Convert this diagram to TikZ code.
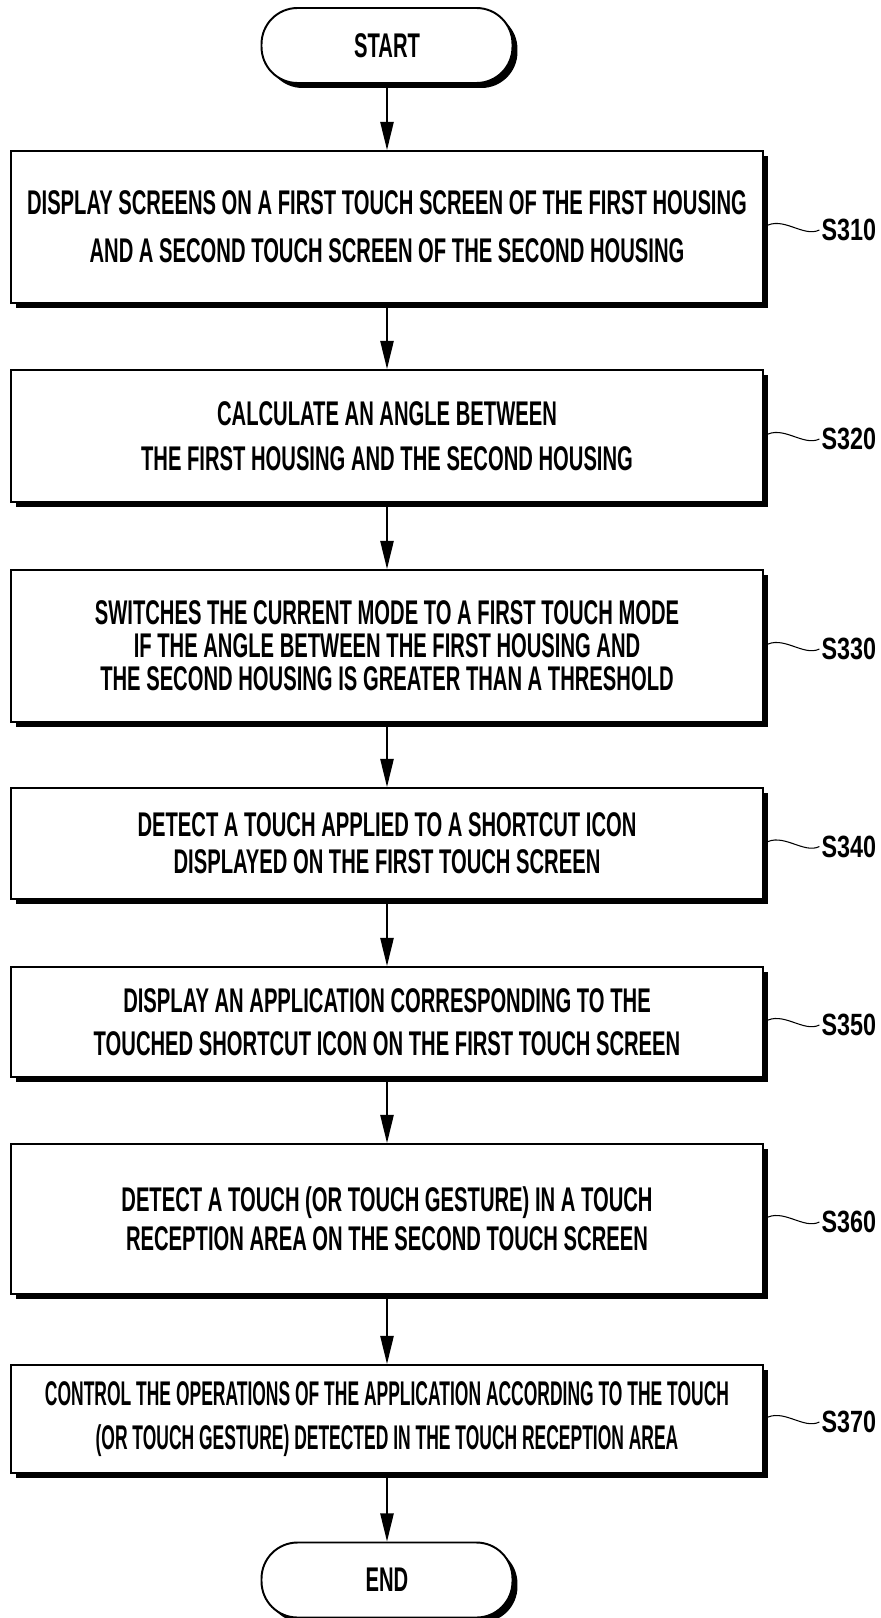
\documentclass[tikz,border=0pt]{standalone}
\usepackage{fontspec}
\setmainfont{Liberation Sans}[FakeStretch=0.59]
\newfontfamily\narrowfont{Liberation Sans}[FakeStretch=0.51]
\newfontfamily\tagfont{Liberation Sans}[FakeStretch=0.76]
\usepackage{tikz}
\usetikzlibrary{arrows.meta,shadows}
\usepackage{xcolor}

\begin{document}
\begin{tikzpicture}[x=0.02cm, y=-0.02cm,
    stepbox/.style={draw, fill=white, line width=1.1pt, minimum width=15.06cm, align=center,
      font=\bfseries\fontsize{19.5}{#1}\selectfont,
      drop shadow={shadow xshift=0.1cm, shadow yshift=-0.1cm, fill=black, opacity=1}},
    termbox/.style={stepbox=22pt, minimum width=5.02cm, minimum height=1.5cm, rounded corners=0.72cm},
    tag/.style={font=\tagfont\bfseries\fontsize{17.5}{20}\selectfont, inner sep=1pt, anchor=west},
    flow/.style={line width=1.1pt, -{Triangle[length=16pt, width=7.5pt]}}]
  \useasboundingbox (0,0) rectangle (881,1618);
  % terminals
  \node[termbox] (start) at (387,45.5) {START};
  \node[termbox] (end) at (387,1580) {END};
  % steps
  \node[stepbox=27.2pt, minimum height=3.04cm] (s310) at (387,227)
    {DISPLAY SCREENS ON A FIRST TOUCH SCREEN OF THE FIRST HOUSING\\AND A SECOND TOUCH SCREEN OF THE SECOND HOUSING};
  \node[stepbox=25.5pt, minimum height=2.64cm] (s320) at (387,436)
    {CALCULATE AN ANGLE BETWEEN\\THE FIRST HOUSING AND THE SECOND HOUSING};
  \node[stepbox=18.8pt, minimum height=3.04cm] (s330) at (387,646)
    {SWITCHES THE CURRENT MODE TO A FIRST TOUCH MODE\\IF THE ANGLE BETWEEN THE FIRST HOUSING AND\\THE SECOND HOUSING IS GREATER THAN A THRESHOLD};
  \node[stepbox=21pt, minimum height=2.22cm] (s340) at (387,843.5)
    {DETECT A TOUCH APPLIED TO A SHORTCUT ICON\\DISPLAYED ON THE FIRST TOUCH SCREEN};
  \node[stepbox=24.4pt, minimum height=2.2cm] (s350) at (387,1022)
    {DISPLAY AN APPLICATION CORRESPONDING TO THE\\TOUCHED SHORTCUT ICON ON THE FIRST TOUCH SCREEN};
  \node[stepbox=22.1pt, minimum height=3cm] (s360) at (387,1219)
    {DETECT A TOUCH (OR TOUCH GESTURE) IN A TOUCH\\RECEPTION AREA ON THE SECOND TOUCH SCREEN};
  \node[stepbox=25.5pt, minimum height=2.16cm] (s370) at (387,1419)
    {\narrowfont CONTROL THE OPERATIONS OF THE APPLICATION ACCORDING TO THE TOUCH\\\narrowfont (OR TOUCH GESTURE) DETECTED IN THE TOUCH RECEPTION AREA};
  % arrows
  \foreach \a/\b in {start/s310, s310/s320, s320/s330, s330/s340, s340/s350, s350/s360, s360/s370, s370/end}
    \draw[flow] (\a) -- (\b);
  % step numbers
  \foreach \id/\txt in {s310/S310, s320/S320, s330/S330, s340/S340, s350/S350, s360/S360, s370/S370} {
    \node[tag] (\id-tag) at ([shift={(55,3)}]\id.east) {\txt};
    \draw[line width=0.6pt] (\id.east) .. controls +(18,-12) and +(-16,8) .. (\id-tag.west);
  }
\end{tikzpicture}
\end{document}
